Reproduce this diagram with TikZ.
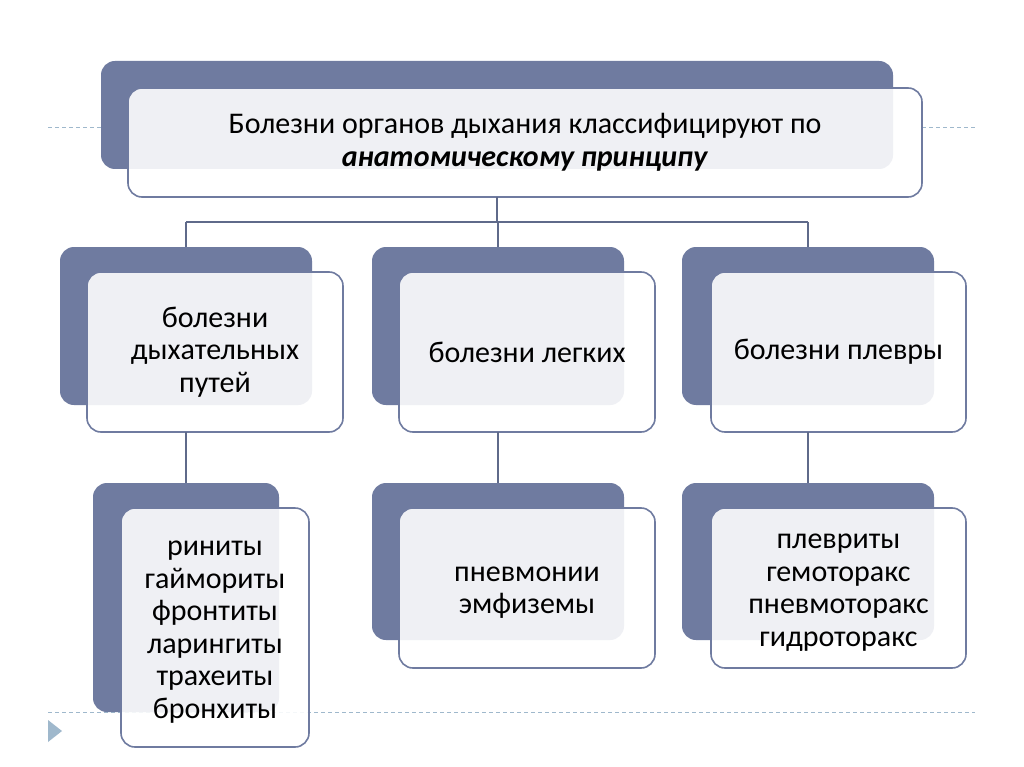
\documentclass[tikz,border=0pt]{standalone}
\usepackage{fontspec}
\setmainfont{Carlito}
\definecolor{backc}{HTML}{6F7BA0}
\definecolor{edgec}{HTML}{6F7BA0}
\definecolor{linec}{HTML}{5F6A8A}
\definecolor{dashc}{HTML}{9FB8CC}
\newcommand{\lowerstrut}{\rule{0pt}{24pt}}
\begin{document}
\begin{tikzpicture}[x=1pt,y=-1pt,
  backbox/.style={draw=none,fill=backc,rounded corners=14pt,anchor=north west,inner sep=0pt,outer sep=0pt},
  frontbox/.style={draw=edgec,line width=1.6pt,fill=white,fill opacity=0.89,text opacity=1,rounded corners=14pt,anchor=north west,inner sep=0pt,outer sep=0pt,align=center,font=\fontsize{30}{32.5}\selectfont},
  conn/.style={draw=linec,line width=1.6pt},
  dashl/.style={draw=dashc,line width=0.8pt,dash pattern=on 4pt off 3pt}]
\useasboundingbox (0,0) rectangle (1024,767);
\fill[white] (0,0) rectangle (1024,767);
% dashed guide lines
\coordinate (dl1) at (48,127);
\coordinate (dl2) at (101,127);
\coordinate (dr1) at (922,127);
\coordinate (dr2) at (975,127);
\coordinate (db1) at (48,712);
\coordinate (db2) at (975,712);
\draw[dashl] (dl1) -- (dl2);
\draw[dashl] (dr1) -- (dr2);
\draw[dashl] (db1) -- (db2);
\fill[dashc] (48,720) -- (62,731) -- (48,742) -- cycle;
% top
\node[backbox,minimum width=792pt,minimum height=108pt] (tb) at (101,61) {};
\node[frontbox,minimum width=794pt,minimum height=109pt] (tf) at (128,88) {Болезни органов дыхания классифицируют по\\\textbf{\textit{анатомическому принципу}}};
% middle row
\node[backbox,minimum width=252pt,minimum height=158pt] (lb) at (60,247) {};
\node[backbox,minimum width=252pt,minimum height=158pt] (mb) at (372,247) {};
\node[backbox,minimum width=252pt,minimum height=158pt] (rb) at (682,247) {};
% connectors top
\coordinate (j0) at (497,222);
\coordinate (jl) at (lb.north |- j0);
\coordinate (jr) at (rb.north |- j0);
\draw[conn] (tb.south |- tf.south) -- (j0);
\draw[conn] (jl) -- (jr);
\draw[conn] (jl) -- (lb.north);
\draw[conn] (mb.north |- j0) -- (mb.north);
\draw[conn] (jr) -- (rb.north);
\node[frontbox,minimum width=256pt,minimum height=160pt] (lf) at (87,272) {болезни\\дыхательных\\путей};
\node[frontbox,minimum width=256pt,minimum height=160pt] (mf) at (399,272) {болезни легких};
\node[frontbox,minimum width=255pt,minimum height=160pt] (rf) at (711,272) {болезни плевры};
% bottom row
\node[backbox,minimum width=186pt,minimum height=229pt] (lbb) at (93,483) {};
\node[backbox,minimum width=252pt,minimum height=157pt] (mbb) at (372,483) {};
\node[backbox,minimum width=252pt,minimum height=157pt] (rbb) at (682,483) {};
\draw[conn] (lb.south |- lf.south) -- (lb.south |- lbb.north);
\draw[conn] (mb.south |- mf.south) -- (mb.south |- mbb.north);
\draw[conn] (rb.south |- rf.south) -- (rb.south |- rbb.north);
\node[frontbox,minimum width=188pt,minimum height=239pt] (lbf) at (121,508) {\lowerstrut риниты\\гаймориты\\фронтиты\\ларингиты\\трахеиты\\бронхиты};
\node[frontbox,minimum width=256pt,minimum height=160pt] (mbf) at (399,508) {\lowerstrut пневмонии\\эмфиземы};
\node[frontbox,minimum width=255pt,minimum height=160pt] (rbf) at (711,508) {\lowerstrut плевриты\\гемоторакс\\пневмоторакс\\гидроторакс};
\end{tikzpicture}
\end{document}
